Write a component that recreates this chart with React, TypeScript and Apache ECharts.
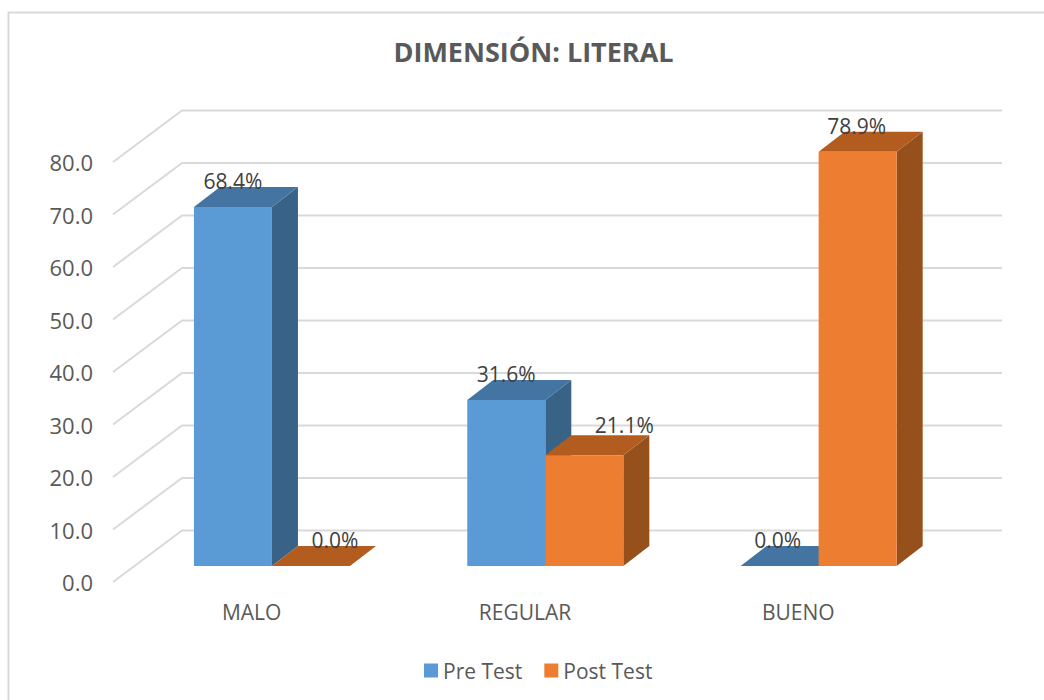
import React, { useEffect, useRef } from "react";
import * as echarts from "echarts";

const categories = ["MALO", "REGULAR", "BUENO"];
const preTest = [68.4, 31.6, 0.0];
const postTest = [0.0, 21.1, 78.9];
const gridTicks = [0, 10, 20, 30, 40, 50, 60, 70, 80];

const BLUE = { front: "#5b9bd5", top: "#4475a2", side: "#386387" };
const ORANGE = { front: "#ed7d31", top: "#b25c20", side: "#95501c" };
const FONT = '"Open Sans", sans-serif';
const TEXT = "#595959";
const WALL = { dx: 69, dy: -51.5 };
const BAR_OFFSET = { dx: 22.3, dy: -16 };
const DEPTH = { dx: 26, dy: -20 };
const WIDTH_RATIO = 0.2855;

function barSeries(name: string, values: number[], palette: typeof BLUE, side: number, nudgeX: number[], nudgeY: number[]) {
  return {
    name,
    type: "custom",
    coordinateSystem: "cartesian2d",
    clip: false,
    z: 5,
    itemStyle: { color: palette.front },
    data: categories.map((c, i) => [c, values[i]]),
    renderItem: (params: any, api: any) => {
      const idx = api.value(0);
      const val = api.value(1);
      const band = api.size([1, 0])[0];
      const w = band * WIDTH_RATIO;
      const c0 = api.coord([idx, 0]);
      const c1 = api.coord([idx, val]);
      const x0 = c0[0] + BAR_OFFSET.dx + (side < 0 ? -w : 0);
      const x1 = x0 + w;
      const yB = c0[1] + BAR_OFFSET.dy;
      const yT = c1[1] + BAR_OFFSET.dy;
      const dx = DEPTH.dx;
      const dy = DEPTH.dy;
      const poly = (points: number[][], fill: string) => ({
        type: "polygon",
        shape: { points },
        style: { fill, stroke: null },
      });
      const label = Number(val).toFixed(1) + "%";
      return {
        type: "group",
        children: [
          poly([[x1, yB], [x1 + dx, yB + dy], [x1 + dx, yT + dy], [x1, yT]], palette.side),
          poly([[x0, yT], [x1, yT], [x1 + dx, yT + dy], [x0 + dx, yT + dy]], palette.top),
          poly([[x0, yB], [x1, yB], [x1, yT], [x0, yT]], palette.front),
          {
            type: "text",
            z2: 50,
            style: {
              x: (x0 + x1) / 2 + nudgeX[params.dataIndex],
              y: yT - 26 + nudgeY[params.dataIndex],
              text: label,
              fill: "#404040",
              font: `21px ${FONT}`,
              align: "center",
              verticalAlign: "middle",
            },
          },
        ],
      };
    },
  };
}

const App = () => {
  const ref = useRef<HTMLDivElement>(null);
  useEffect(() => {
    const chart = echarts.init(ref.current!, undefined, { renderer: "svg" });
    chart.setOption({
      animation: false,
      backgroundColor: "#ffffff",
      title: {
        text: "DIMENSIÓN: LITERAL",
        left: 528.5,
        top: 33,
        textAlign: "center",
        textStyle: { fontFamily: FONT, fontWeight: "bold", fontSize: 27, color: TEXT },
      },
      grid: { left: 113, width: 820, top: 162, height: 420 },
      legend: {
        data: ["Pre Test", "Post Test"],
        left: 419,
        top: 655,
        icon: "rect",
        itemWidth: 14,
        itemHeight: 14,
        itemGap: 22,
        textStyle: { fontFamily: FONT, fontSize: 21, color: TEXT },
      },
      xAxis: {
        type: "category",
        data: categories,
        axisLine: { show: false },
        axisTick: { show: false },
        axisLabel: { fontFamily: FONT, fontSize: 21, color: TEXT, margin: 19, padding: [0, 0, 0, 4] },
      },
      yAxis: {
        type: "value",
        min: 0,
        max: 80,
        interval: 10,
        axisLine: { show: false },
        axisTick: { show: false },
        splitLine: { show: false },
        axisLabel: {
          fontFamily: FONT,
          fontSize: 22,
          color: TEXT,
          margin: 20,
          formatter: (v: number) => v.toFixed(1),
        },
      },
      graphic: [
        {
          type: "polyline",
          silent: true,
          shape: { points: [[1044, 12.5], [8.5, 12.5], [8.5, 700]] },
          style: { stroke: "#d9d9d9", lineWidth: 2, fill: null },
        },
      ],
      series: [
        {
          name: "walls",
          type: "custom",
          coordinateSystem: "cartesian2d",
          clip: false,
          silent: true,
          z: 1,
          data: gridTicks.map((t) => [categories[0], t]),
          renderItem: (params: any, api: any) => {
            const t = api.value(1);
            const band = api.size([1, 0])[0];
            const c = api.coord([0, t]);
            const left = c[0] - band / 2;
            const right = left + band * categories.length;
            return {
              type: "polyline",
              shape: {
                points: [
                  [left, c[1]],
                  [left + WALL.dx, c[1] + WALL.dy],
                  [right + WALL.dx, c[1] + WALL.dy],
                ],
              },
              style: { stroke: "#d9d9d9", lineWidth: 2, fill: null },
            };
          },
        },
        barSeries("Pre Test", preTest, BLUE, -1, [0, 0, -2], [0, 0, 0]),
        barSeries("Post Test", postTest, ORANGE, 1, [24, 40, -1], [0, -4, 0]),
      ],
    });
    return () => chart.dispose();
  }, []);
  return <div ref={ref} style={{ position: "fixed", left: 0, top: 0, width: 1044, height: 700 }} />;
};

export default App;
